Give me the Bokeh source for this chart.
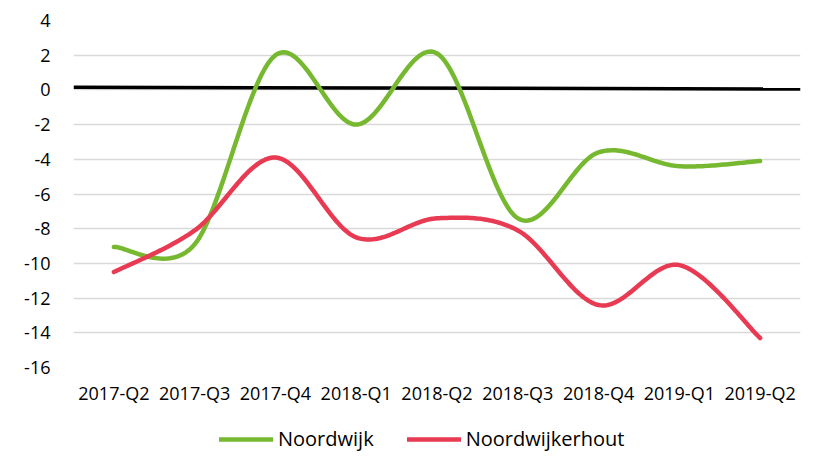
import numpy as np
from bokeh.plotting import figure
from bokeh.layouts import column
from bokeh.models import FixedTicker, Legend, LegendItem
from bokeh.embed import file_html
from bokeh.resources import INLINE

# ---- data ----
quarters = ["2017-Q2", "2017-Q3", "2017-Q4", "2018-Q1", "2018-Q2",
            "2018-Q3", "2018-Q4", "2019-Q1", "2019-Q2"]
noordwijk = [-9.05, -8.9, 2.0, -2.0, 2.1, -7.4, -3.6, -4.4, -4.1]
noordwijkerhout = [-10.5, -8.1, -3.9, -8.5, -7.4, -8.1, -12.4, -10.1, -14.3]
series_names = ["Noordwijk", "Noordwijkerhout"]
y_ticks = [-16, -14, -12, -10, -8, -6, -4, -2, 0, 2, 4]
y_tick_labels = ["-16", "-14", "-12", "-10", "-8", "-6", "-4", "-2", "0", "2", "4"]
zero_x = [-0.5, 8.5]
zero_y = [0.15, 0.05]

GREEN = "#76b830"
RED = "#e83a52"
FONT = "Open Sans"

W = 814
H_MAIN, H_LEG = 424, 30
BL, BR, BT, BB = 73, 14, 20, 57
SX = (W - BL - BR) / 9.0
SY = (H_MAIN - BT - BB) / 20.0


def smooth(xs, ys, n=40):
    """Excel-like smoothed line: cubic Bezier segments with arm lengths
    computed in screen space."""
    P = np.column_stack([np.asarray(xs, float) * SX, np.asarray(ys, float) * SY])
    m = len(P)

    def f_at(i):
        a = P[i - 1] if i > 0 else P[i]
        c = P[i + 1] if i + 1 < m else P[i]
        t = c - a
        d02 = np.linalg.norm(t)
        if d02 == 0:
            return t, 0.0
        ds = []
        if i > 0:
            ds.append(np.linalg.norm(P[i] - P[i - 1]))
        if i + 1 < m:
            ds.append(np.linalg.norm(P[i + 1] - P[i]))
        f = min(1 / 6, min(ds) / (2 * d02))
        return t, f

    out = []
    tt = np.linspace(0, 1, n)
    for i in range(m - 1):
        t1, f1 = f_at(i)
        t2, f2 = f_at(i + 1)
        p1, p2 = P[i], P[i + 1]
        b1 = p1 + t1 * f1
        b2 = p2 - t2 * f2
        seg = ((1 - tt) ** 3)[:, None] * p1 + (3 * (1 - tt) ** 2 * tt)[:, None] * b1 \
            + (3 * (1 - tt) * tt ** 2)[:, None] * b2 + (tt ** 3)[:, None] * p2
        out.append(seg if i == 0 else seg[1:])
    pts = np.vstack(out)
    return pts[:, 0] / SX, pts[:, 1] / SY


xi = list(range(len(quarters)))

p = figure(width=W, height=H_MAIN, output_backend="svg", toolbar_location=None,
           x_range=(-0.5, 8.5), y_range=(-16, 4),
           min_border_left=BL, min_border_right=BR, min_border_top=BT, min_border_bottom=BB)
p.outline_line_color = None
p.background_fill_color = "white"
p.border_fill_color = "white"

p.xgrid.grid_line_color = None
p.ygrid.grid_line_color = "#d9d9d9"
p.ygrid.grid_line_width = 1.5

p.yaxis.ticker = FixedTicker(ticks=y_ticks)
p.yaxis.major_label_overrides = {t: l for t, l in zip(y_ticks, y_tick_labels)}
p.xaxis.ticker = FixedTicker(ticks=xi)
p.xaxis.major_label_overrides = {i: q for i, q in zip(xi, quarters)}

for ax in (p.xaxis, p.yaxis):
    ax.axis_line_color = None
    ax.major_tick_line_color = None
    ax.minor_tick_line_color = None
    ax.major_label_text_font = FONT
    ax.major_label_text_font_size = "18px"
    ax.major_label_text_color = "#000000"
p.yaxis.major_label_standoff = 17
p.xaxis.major_label_standoff = 7

gx, gy = smooth(xi, noordwijk)
rx, ry = smooth(xi, noordwijkerhout)

p.line(zero_x, zero_y, line_color="black", line_width=3.5)
p.line(gx, gy, line_color=GREEN, line_width=4.5, line_cap="round", line_join="round")
p.line(rx, ry, line_color=RED, line_width=4.5, line_cap="round", line_join="round")

# legend strip below the chart (its key lines lie outside its visible range)
lg = figure(width=W, height=H_LEG, output_backend="svg", toolbar_location=None,
            x_axis_type=None, y_axis_type=None, x_range=(0, 1), y_range=(0, 1),
            min_border_left=0, min_border_right=0, min_border_top=0, min_border_bottom=0)
lg.outline_line_color = None
lg.xgrid.visible = False
lg.ygrid.visible = False
k1 = lg.line([5, 6], [5, 5], line_color=GREEN, line_width=4.5, line_cap="round")
k2 = lg.line([5, 6], [5, 5], line_color=RED, line_width=4.5, line_cap="round")

legend = Legend(items=[LegendItem(label=series_names[0], renderers=[k1]),
                       LegendItem(label=series_names[1], renderers=[k2])],
                orientation="horizontal", location=(146, 2),
                glyph_width=54, glyph_height=20, label_height=20,
                label_standoff=5, spacing=33, padding=0, margin=0,
                border_line_color=None, background_fill_alpha=0,
                label_text_font=FONT, label_text_font_size="20px",
                label_text_color="#000000")
lg.add_layout(legend)

layout = column(p, lg, spacing=0)
open("out.html", "w").write(file_html(layout, INLINE))
